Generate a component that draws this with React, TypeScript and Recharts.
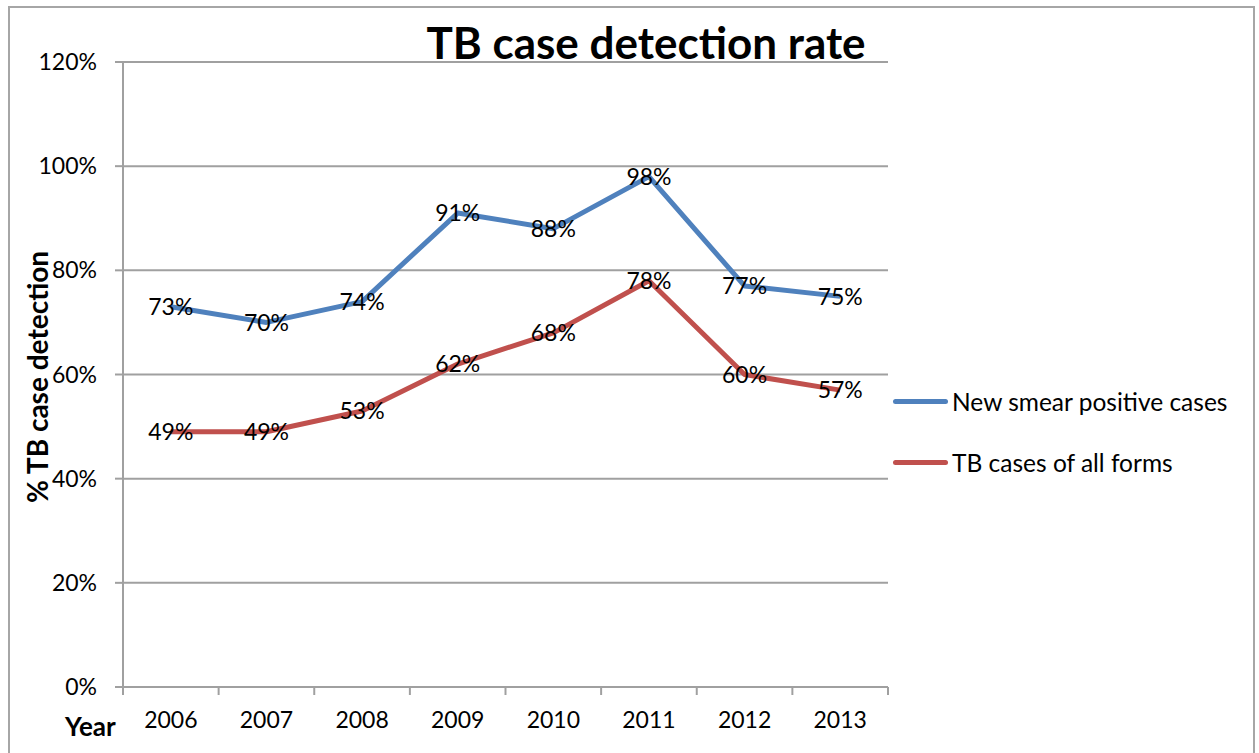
import React from 'react';
import { LineChart, Line, XAxis, YAxis, CartesianGrid, LabelList } from 'recharts';

const years = ['2006', '2007', '2008', '2009', '2010', '2011', '2012', '2013'];
const newSmearPositive = [73, 70, 74, 91, 88, 98, 77, 75];
const allForms = [49, 49, 53, 62, 68, 78, 60, 57];
const yTicks = [0, 20, 40, 60, 80, 100, 120];

const data = years.map((year, i) => ({
  year,
  smear: newSmearPositive[i],
  all: allForms[i],
}));

const series = [
  { key: 'smear', label: 'New smear positive cases', color: '#4f81bd' },
  { key: 'all', label: 'TB cases of all forms', color: '#c0504d' },
];

const FONT = 'Lato, "Open Sans", sans-serif';
const W = 1259;
const H = 753;
const PLOT_LEFT = 123;
const PLOT_RIGHT = 888;
const BAND = (PLOT_RIGHT - PLOT_LEFT) / years.length;

const XTick = (props: any) => {
  const { x, y, payload, index } = props;
  return (
    <g>
      <line x1={x - BAND / 2} x2={x - BAND / 2} y1={y - 8} y2={y} stroke="#a0a0a0" strokeWidth={2} />
      {index === years.length - 1 && (
        <line x1={x + BAND / 2} x2={x + BAND / 2} y1={y - 8} y2={y} stroke="#a0a0a0" strokeWidth={2} />
      )}
      <text x={x} y={y + 33} textAnchor="middle" fontFamily={FONT} fontSize={23} fill="#000">
        {payload.value}
      </text>
    </g>
  );
};

export default function App() {
  return (
    <div style={{ position: 'absolute', left: 0, top: 0, width: W, height: H, background: '#fff', fontFamily: FONT }}>
      <div
        style={{
          position: 'absolute',
          left: 8,
          top: 6,
          width: 1247,
          height: 760,
          border: '2px solid #a6a6a6',
          boxSizing: 'border-box',
        }}
      />
      <div
        style={{
          position: 'absolute',
          left: 346,
          width: 600,
          top: 14,
          textAlign: 'center',
          fontSize: 44,
          fontWeight: 700,
          lineHeight: '56px',
        }}
      >
        TB case detection rate
      </div>
      <div
        style={{
          position: 'absolute',
          left: 37,
          top: 377,
          transform: 'translate(-50%, -50%) rotate(-90deg)',
          whiteSpace: 'nowrap',
          fontSize: 28,
          fontWeight: 700,
        }}
      >
        % TB case detection
      </div>
      <div style={{ position: 'absolute', left: 65, top: 710, fontSize: 26, fontWeight: 700 }}>Year</div>
      <div style={{ position: 'absolute', left: 893, top: 384, fontSize: 24.5, color: '#000' }}>
        {series.map((it, i) => (
          <div key={it.key} style={{ display: 'flex', alignItems: 'center', height: 34, marginBottom: i === 0 ? 27 : 0 }}>
            <div style={{ width: 55, height: 5, borderRadius: 3, background: it.color, marginRight: 4 }} />
            <span>{it.label}</span>
          </div>
        ))}
      </div>
      <div style={{ position: 'absolute', left: 0, top: 0 }}>
        <LineChart
          width={W}
          height={H}
          data={data}
          margin={{ top: 62, right: W - PLOT_RIGHT, bottom: 26, left: 0 }}
        >
          <CartesianGrid vertical={false} stroke="#a0a0a0" strokeWidth={2} />
          <XAxis
            dataKey="year"
            scale="band"
            height={40}
            axisLine={{ stroke: '#a0a0a0', strokeWidth: 2 }}
            tickLine={false}
            tick={<XTick />}
            interval={0}
          />
          <YAxis
            width={PLOT_LEFT}
            domain={[0, 120]}
            ticks={yTicks}
            interval={0}
            tickFormatter={(v: number) => `${v}%`}
            axisLine={{ stroke: '#a0a0a0', strokeWidth: 2 }}
            tickLine={{ stroke: '#a0a0a0', strokeWidth: 2 }}
            tickSize={8}
            tick={{ fill: '#000', fontSize: 23, fontFamily: FONT }}
            tickMargin={18}
          />
          {series.map((s) => (
            <Line
              key={s.key}
              dataKey={s.key}
              name={s.label}
              stroke={s.color}
              strokeWidth={5}
              dot={false}
              isAnimationActive={false}
              strokeLinejoin="round"
            >
              <LabelList
                dataKey={s.key}
                position="center"
                formatter={(v: number) => `${v}%`}
                style={{ fill: '#000', fontSize: 23, fontFamily: FONT }}
              />
            </Line>
          ))}
        </LineChart>
      </div>
    </div>
  );
}
